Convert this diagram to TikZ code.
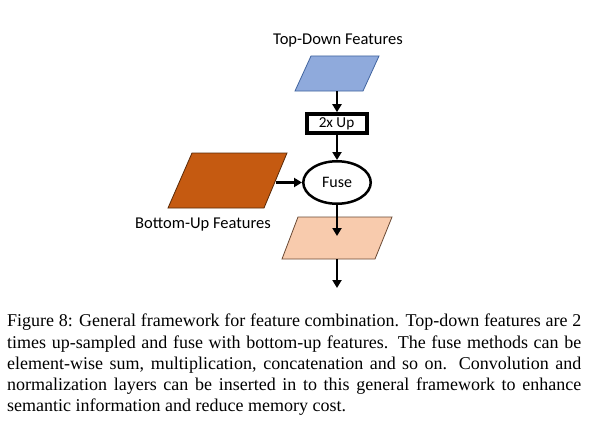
\documentclass[tikz,border=0pt]{standalone}
\usepackage{fontspec}
\setmainfont{Liberation Serif}
\newfontfamily\diagfont{Carlito}
\usetikzlibrary{arrows.meta,shapes.geometric}
\definecolor{tdblue}{HTML}{8FAADC}
\definecolor{tdblueedge}{HTML}{41649F}
\definecolor{buorange}{HTML}{C55A11}
\definecolor{buedge}{HTML}{5A2A08}
\definecolor{outpeach}{HTML}{F8CBAD}
\definecolor{outedge}{HTML}{6B4A35}
\tikzset{
  flow/.style={line width=2.8pt,-{Triangle[length=8pt,width=9pt]}},
  lbl/.style={font=\diagfont\fontsize{16.5}{19}\selectfont,inner sep=0pt},
  upbox/.style={draw,line width=4pt,minimum width=60pt,minimum height=19pt,inner sep=0pt,text height=10pt,text depth=3pt,font=\diagfont\fontsize{15.2}{17}\selectfont},
  fusenode/.style={draw,ellipse,line width=2.5pt,minimum width=67.5pt,minimum height=42.5pt,inner sep=0pt,font=\diagfont\fontsize{16}{19}\selectfont},
  capline/.style={anchor=base west,inner sep=0pt,font=\fontsize{18}{21}\selectfont}
}
\begin{document}
\begin{tikzpicture}[x=1pt,y=-1pt]
\useasboundingbox[fill=white] (0,0) rectangle (599,428);
% top-down features
\node[lbl] (tdl) at (338,41) {Top-Down Features};
\draw[fill=tdblue,draw=tdblueedge,line width=0.8pt] (311,56) -- (379,56) -- (363,91) -- (295,91) -- cycle;
\coordinate (tdb) at (337,91);
% 2x up
\node[upbox] (up) at (336.5,123.7) {2x Up};
% fuse
\node[fusenode] (fuse) at (337,182.5) {Fuse};
% bottom-up features
\draw[fill=buorange,draw=buedge,line width=0.8pt] (192,153) -- (287,153) -- (264,208) -- (168,208) -- cycle;
\coordinate (bur) at (275.5,182.5);
\node[lbl] (bul) at (203,225) {Bottom-Up Features};
% output
\draw[fill=outpeach,draw=outedge,line width=0.8pt] (298,217) -- (392,217) -- (375,259) -- (282,259) -- cycle;
\coordinate (outin) at (337,236);
\coordinate (outb) at (337,259);
\coordinate (end) at (337,288);
% connectors
\draw[flow] (tdb) -- (tdb |- up.north);
\draw[flow] (up.south -| fuse.north) -- (fuse.north);
\draw[flow] (bur) -- (fuse.west);
\draw[flow] (fuse.south) -- (outin);
\draw[flow] (outb) -- (end);
% caption
\node[capline] (c1) at (7,326.7) {\makebox[574pt][s]{Figure 8: General framework for feature combination. Top-down features are 2}};
\node[capline] (c2) at (7,348) {\makebox[574pt][s]{times up-sampled and fuse with bottom-up features. The fuse methods can be}};
\node[capline] (c3) at (7,369.2) {\makebox[574pt][s]{element-wise sum, multiplication, concatenation and so on. Convolution and}};
\node[capline] (c4) at (7,390.5) {\makebox[574pt][s]{normalization layers can be inserted in to this general framework to enhance}};
\node[capline] (c5) at (7,411.7) {semantic information and reduce memory cost.};
\end{tikzpicture}
\end{document}
